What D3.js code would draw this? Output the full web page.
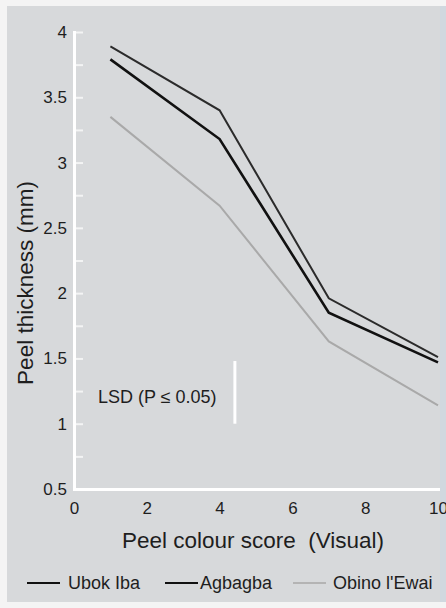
<!DOCTYPE html>
<html>
<head>
<meta charset="utf-8">
<script src="https://cdn.jsdelivr.net/npm/d3@7"></script>
<style>
  html, body { margin: 0; padding: 0; background: #f4f4f4; }
  svg { display: block; font-family: "Liberation Sans", Arial, sans-serif; }
</style>
</head>
<body>
<svg id="chart"></svg>
<script>
// data
var scores = [1, 4, 7, 10];
var ubokIba = [3.89, 3.40, 1.96, 1.51];
var agbagba = [3.79, 3.18, 1.85, 1.47];
var obino = [3.35, 2.67, 1.63, 1.14];
var seriesNames = ["Ubok Iba", "Agbagba", "Obino l'Ewai"];
var xTicks = [0, 2, 4, 6, 8, 10];
var yTicks = [0.5, 1, 1.5, 2, 2.5, 3, 3.5, 4];
var lsdBase = 1.0, lsdValue = 0.48, lsdAt = 4.42;

// config
var config = { w: 446, h: 608, left: 74, right: 438, top: 32, bottom: 489 };
var styles = [
  { stroke: "#2b2b2b", width: 2 },
  { stroke: "#111", width: 2.6 },
  { stroke: "#a9a9a9", width: 2 }
];

var svg = d3.select("#chart").attr("width", config.w).attr("height", config.h);

// paper background
svg.append("rect").attr("width", config.w).attr("height", config.h).attr("fill", "#f4f4f4");
svg.append("rect").attr("x", 7).attr("y", 6).attr("width", 433).attr("height", 596).attr("fill", "#d7d9db");
svg.append("rect").attr("x", 440).attr("y", 6).attr("width", 6).attr("height", 596).attr("fill", "#d0d8df");

var x = d3.scaleLinear().domain([0, 10]).range([config.left, config.right]);
var y = d3.scaleLinear().domain([0.5, 4]).range([config.bottom, config.top]);

// y axis: ticks every 0.25 pointing inward, labels on the halves
var yAll = d3.range(0.5, 4.01, 0.25);
var yAxis = svg.append("g")
  .attr("transform", "translate(" + config.left + ",0)")
  .call(d3.axisLeft(y).tickValues(yAll).tickSizeInner(-9).tickSizeOuter(0).tickPadding(7)
    .tickFormat(function(d) { return yTicks.indexOf(d) >= 0 ? d3.format("~g")(d) : ""; }));
yAxis.select(".domain").attr("stroke", "#fff").attr("stroke-width", 3).attr("stroke-linecap", "square");
yAxis.selectAll(".tick line").attr("stroke", "#fff").attr("stroke-opacity", 0.7).attr("stroke-width", 2);
yAxis.selectAll("text").attr("fill", "#1e1e1e").attr("font-size", 17).attr("font-family", null);

// x axis
var xAxis = svg.append("g")
  .attr("transform", "translate(0," + config.bottom + ")")
  .call(d3.axisBottom(x).tickValues(xTicks).tickSize(0).tickPadding(13).tickFormat(d3.format("d")));
xAxis.select(".domain").attr("stroke", "#fff").attr("stroke-width", 3).attr("stroke-linecap", "square");
xAxis.selectAll("text").attr("fill", "#1e1e1e").attr("font-size", 17).attr("font-family", null);

// axis titles
svg.append("text")
  .attr("x", 253).attr("y", 548)
  .attr("text-anchor", "middle").attr("font-size", 22.5).attr("fill", "#1e1e1e")
  .style("white-space", "pre")
  .text("Peel colour score  (Visual)");

svg.append("text")
  .attr("transform", "translate(33,283) rotate(-90)")
  .attr("text-anchor", "middle").attr("font-size", 22.5).attr("fill", "#1e1e1e")
  .text("Peel thickness (mm)");

// series lines
var line = d3.line()
  .x(function(d, i) { return x(scores[i]); })
  .y(function(d) { return y(d); });

var series = [ubokIba, agbagba, obino];
svg.append("g").selectAll("path")
  .data(series)
  .enter().append("path")
  .attr("d", line)
  .attr("fill", "none")
  .attr("stroke", function(d, i) { return styles[i].stroke; })
  .attr("stroke-width", function(d, i) { return styles[i].width; })
  .attr("stroke-linejoin", "miter");

// LSD bar
svg.append("line")
  .attr("x1", x(lsdAt)).attr("x2", x(lsdAt))
  .attr("y1", y(lsdBase)).attr("y2", y(lsdBase + lsdValue))
  .attr("stroke", "#fff").attr("stroke-width", 3);
svg.append("text")
  .attr("x", 98).attr("y", 403)
  .attr("font-size", 18).attr("fill", "#1e1e1e")
  .text("LSD (P \u2264 0.05)");

// legend
var legendX = [27, 165, 293];
var leg = svg.append("g").attr("transform", "translate(0,583)");
var items = leg.selectAll("g").data(seriesNames).enter().append("g")
  .attr("transform", function(d, i) { return "translate(" + legendX[i] + ",0)"; });
items.append("line")
  .attr("x1", 0).attr("x2", 33)
  .attr("stroke", function(d, i) { return i == 2 ? "#b4b4b4" : "#111"; })
  .attr("stroke-width", 2);
items.append("text")
  .attr("x", function(d, i) { return i == 0 ? 41 : (i == 1 ? 35 : 40); })
  .attr("dy", "0.35em")
  .attr("font-size", 18).attr("fill", "#1e1e1e")
  .text(function(d) { return d; });
</script>
</body>
</html>
